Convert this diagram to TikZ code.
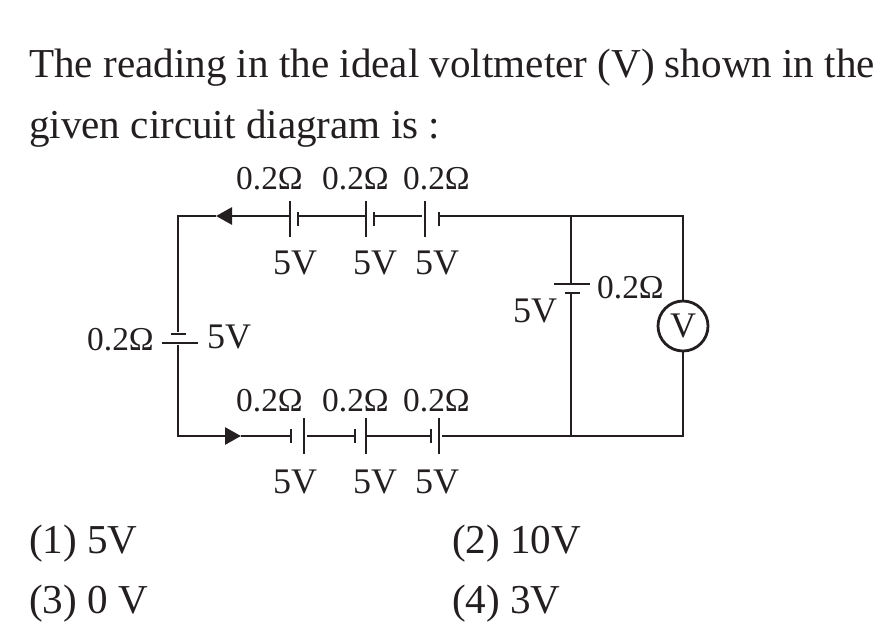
\documentclass[tikz,border=0pt]{standalone}
\usepackage{fontspec}
\setmainfont{Liberation Serif}
\usetikzlibrary{arrows.meta}
\definecolor{ink}{HTML}{231F20}

\begin{document}
\begin{tikzpicture}[
   x=1pt,y=-1pt,
   wire/.style={draw=ink,line width=2.8pt,line join=miter},
   tip/.style={-{Triangle[length=16pt,width=17pt]}},
   longv/.style={fill=ink,inner sep=0pt,minimum width=2.8pt,minimum height=36pt},
   shortv/.style={fill=ink,inner sep=0pt,minimum width=2.8pt,minimum height=14pt},
   longh/.style={fill=ink,inner sep=0pt,minimum width=36pt,minimum height=2.8pt},
   shorth/.style={fill=ink,inner sep=0pt,minimum width=15pt,minimum height=2.8pt},
   question/.style={anchor=base west,inner sep=0pt,text=ink,font=\fontsize{41.1}{41.1}\selectfont},
   rlabel/.style={anchor=base west,inner sep=0pt,text=ink,font=\fontsize{33.4}{33.4}\selectfont},
   vlabel/.style={anchor=base west,inner sep=0pt,text=ink,font=\fontsize{36}{36}\selectfont},
   ]
   \useasboundingbox (0,0) rectangle (896,638);
   \node[question] (line1) at (29,77.5) {The reading in the ideal voltmeter (V) shown in the};
   \node[question] (line2) at (29,138.5) {given circuit diagram is :};
   \node[question] (opt1) at (29,553.5) {(1) 5V};
   \node[question] (opt2) at (452,553.5) {(2) 10V};
   \node[question] (opt3) at (29,613.5) {(3) 0 V};
   \node[question] (opt4) at (452,613.5) {(4) 3V};
   % corners of the loop
   \coordinate (tl) at (178,216);
   \coordinate (bl) at (178,436);
   \coordinate (tm) at (571,216);
   \coordinate (bm) at (571,436);
   \coordinate (tr) at (683,216);
   \coordinate (br) at (683,436);
   \coordinate (arrowt) at (216,216);
   \coordinate (arrowb) at (241,436);
   % top cells
   \node[longv] (t1l) at (290,219) {};
   \node[shortv] (t1s) at (298,219) {};
   \node[longv] (t2l) at (366,219) {};
   \node[shortv] (t2s) at (374,219) {};
   \node[longv] (t3l) at (425,219) {};
   \node[shortv] (t3s) at (439,219) {};
   % bottom cells
   \node[shortv] (b1s) at (291,436) {};
   \node[longv] (b1l) at (304,436) {};
   \node[shortv] (b2s) at (355,436) {};
   \node[longv] (b2l) at (366,436) {};
   \node[shortv] (b3s) at (431,436) {};
   \node[longv] (b3l) at (439,436) {};
   % side cells
   \node[shorth] (ls) at (178,334) {};
   \node[longh] (ll) at (180,343) {};
   \node[longh] (ml) at (572,284) {};
   \node[shorth] (ms) at (572,293) {};
   \node[circle,draw=ink,line width=2.8pt,minimum size=50pt,inner sep=0pt,text=ink,font=\fontsize{36}{36}\selectfont] (volt) at (683,326) {V};
   % wires
   \draw[wire,tip] (t1l.center |- tl) -- (arrowt);
   \draw[wire] (arrowt) -- (tl) -- (ls);
   \draw[wire,tip] (tl |- ll.south) -- (bl) -- (arrowb);
   \draw[wire] (arrowb) -- (b1s.center);
   \draw[wire] (t1s.center |- tl) -- (t2l.center |- tl);
   \draw[wire] (t2s.center |- tl) -- (422,216);
   \draw[wire] (t3s.center |- tl) -- (tm) -- (tr) -- (volt);
   \draw[wire] (307,436) -- (b2s.center);
   \draw[wire] (b2l.center) -- (b3s.center);
   \draw[wire] (442,436) -- (bm) -- (br) -- (volt);
   \draw[wire] (tm) -- (tm |- ml);
   \draw[wire] (tm |- ms) -- (bm);
   % labels
   \foreach \name/\xx/\yy/\txt in {a/236/189/0.2Ω,b/322/189/0.2Ω,c/403/189/0.2Ω,
      g/236/411/0.2Ω,h/322/411/0.2Ω,i/403/411/0.2Ω,
      m/597/298/0.2Ω,o/87/350/0.2Ω}
      \node[rlabel] (lab\name) at (\xx,\yy) {\txt};
   \foreach \name/\xx/\yy/\txt in {d/273/274/5V,e/353/274/5V,f/415/274/5V,
      j/273/493/5V,k/353/493/5V,l/415/493/5V,
      n/513/322/5V,p/207/348/5V}
      \node[vlabel] (lab\name) at (\xx,\yy) {\txt};
\end{tikzpicture}
\end{document}
